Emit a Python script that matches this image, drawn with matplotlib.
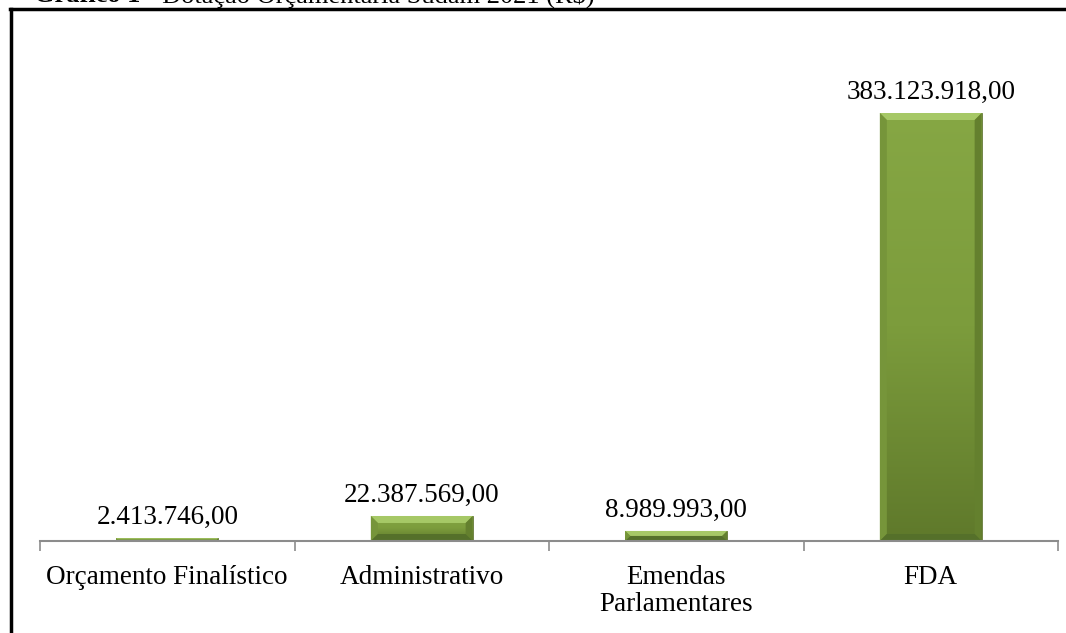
import numpy as np
import matplotlib.pyplot as plt
from matplotlib.lines import Line2D
from matplotlib.patches import Polygon
from matplotlib.transforms import IdentityTransform
from matplotlib.colors import LinearSegmentedColormap

# data
categories = ["Orçamento Finalístico", "Administrativo", "Emendas\nParlamentares", "FDA"]
values = [2413746.00, 22387569.00, 8989993.00, 383123918.00]
labels = ["2.413.746,00", "22.387.569,00", "8.989.993,00", "383.123.918,00"]

plt.rcParams["font.family"] = ["Liberation Serif", "DejaVu Serif"]

fig = plt.figure(figsize=(10.66, 6.33), dpi=100)
W, H = 1066, 633

# axes: x from 40 to 1058 px, baseline at y=541 px
ax = fig.add_axes([40 / W, (H - 541) / H, (1058 - 40) / W, (541 - 60) / H])
x = np.arange(len(categories))
bars = ax.bar(x, values, width=0.4, color="none", edgecolor="none", zorder=2)

ax.set_xlim(-0.5, len(categories) - 0.5)
top = 383123918.0 * (541 - 60) / (541 - 113)
ax.set_ylim(0, top)

# gradient fill + bevel for each bar
grad = np.linspace(1, 0, 256).reshape(-1, 1)
cmap = LinearSegmentedColormap.from_list("olive", ["#5f792b", "#7c9c3c", "#86a744"])
for b in bars:
    x0, w, h = b.get_x(), b.get_width(), b.get_height()
    im = ax.imshow(grad, extent=[x0, x0 + w, 0, h], aspect="auto", cmap=cmap,
                   vmin=0, vmax=1, zorder=2)
    im.set_clip_path(b)
    b.set_edgecolor("#5a7028")
    b.set_linewidth(0.6)
    # bevel in pixel coordinates
    (px0, py0), (px1, py1) = ax.transData.transform([(x0, 0), (x0 + w, h)])
    bv = min(7, (py1 - py0) / 2)
    top_poly = Polygon([(px0, py1), (px1, py1), (px1 - bv, py1 - bv), (px0 + bv, py1 - bv)],
                       closed=True, facecolor="#a6c866", edgecolor="none",
                       transform=IdentityTransform(), zorder=3)
    side_l = Polygon([(px0, py0), (px0, py1), (px0 + bv, py1 - bv), (px0 + bv, py0 + bv)],
                     closed=True, facecolor="#76953a", edgecolor="none",
                     transform=IdentityTransform(), zorder=3)
    side_r = Polygon([(px1, py0), (px1, py1), (px1 - bv, py1 - bv), (px1 - bv, py0 + bv)],
                     closed=True, facecolor="#64802e", edgecolor="none",
                     transform=IdentityTransform(), zorder=3)
    bottom = Polygon([(px0, py0), (px1, py0), (px1 - bv, py0 + bv), (px0 + bv, py0 + bv)],
                     closed=True, facecolor="#55702a", edgecolor="none",
                     transform=IdentityTransform(), zorder=3)
    for p in (top_poly, side_l, side_r, bottom):
        ax.add_artist(p)

for i, v in enumerate(values):
    ax.annotate(labels[i], (i, v), xytext=(0, 6), textcoords="offset points",
                ha="center", va="bottom", fontsize=19.5)

for s in ["top", "right", "left"]:
    ax.spines[s].set_visible(False)
ax.spines["bottom"].set_color("#8c8c8c")
ax.spines["bottom"].set_linewidth(1.5)
ax.spines["bottom"].set_zorder(4)
ax.set_yticks([])
ax.set_xticks([i - 0.5 for i in range(len(categories) + 1)])
ax.set_xticklabels([])
ax.tick_params(axis="x", length=7, width=1.2, color="#8c8c8c")
ax.set_xticks(x, minor=True)
ax.set_xticklabels(categories, minor=True, fontsize=19.5, linespacing=1.15)
ax.tick_params(axis="x", which="minor", length=0, pad=17)

# frame around chart
fig.add_artist(Line2D([11 / W, 11 / W], [0, 1 - 9 / H], color="black", lw=2.5))
fig.add_artist(Line2D([10 / W, 1], [1 - 9 / H, 1 - 9 / H], color="black", lw=2.5))

# clipped title at top
t1 = fig.text(34 / W, 1 - 2.5 / H, "Gráfico 1", fontsize=19, fontweight="bold", va="baseline")
fig.canvas.draw()
bb = t1.get_window_extent()
fig.text(bb.x1 / W, 1 - 2.5 / H, " - Dotação Orçamentária Sudam 2021 (R$)", fontsize=19,
         va="baseline")

fig.savefig("out.png", dpi=100)
